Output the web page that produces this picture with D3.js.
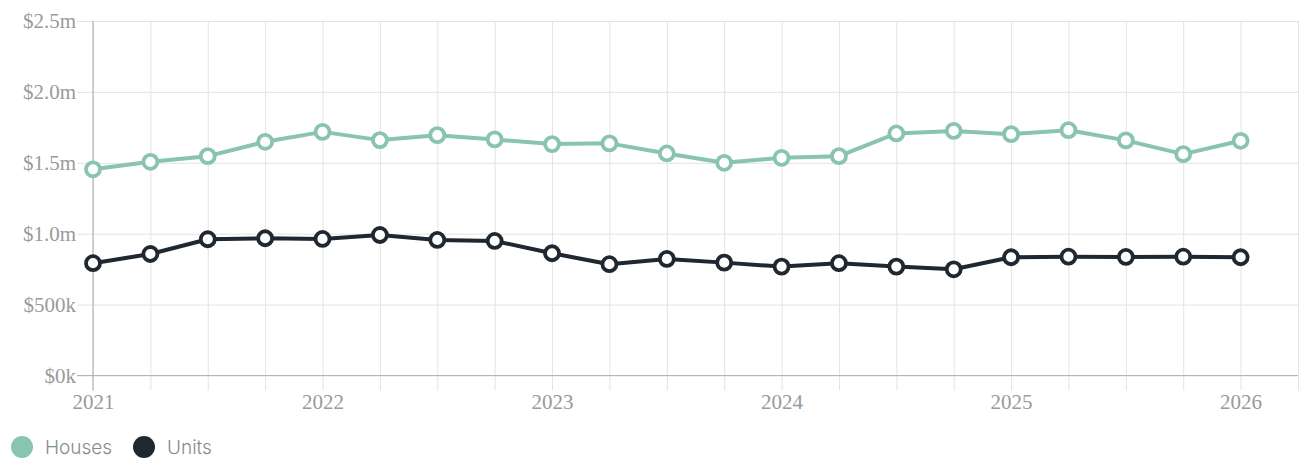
<!DOCTYPE html>
<html>
<head>
<meta charset="utf-8">
<script src="https://cdn.jsdelivr.net/npm/d3@7"></script>
<style>
  html, body { margin: 0; padding: 0; background: #fff; }
  svg { display: block; }
</style>
</head>
<body>
<svg id="chart" width="1307" height="461"></svg>
<script>
// Quarterly median prices, Q1 2021 through Q1 2026
const periods = [
  2021, 2021.25, 2021.5, 2021.75,
  2022, 2022.25, 2022.5, 2022.75,
  2023, 2023.25, 2023.5, 2023.75,
  2024, 2024.25, 2024.5, 2024.75,
  2025, 2025.25, 2025.5, 2025.75,
  2026
];
const housesValues = [
  1454000, 1507000, 1547000, 1648000,
  1718000, 1660000, 1695000, 1665000,
  1632000, 1637000, 1566000, 1500000,
  1535000, 1547000, 1707000, 1725000,
  1702000, 1730000, 1658000, 1561000,
  1655000
];
const unitsValues = [
  792000, 857000, 961000, 968000,
  963000, 991000, 956000, 949000,
  862000, 785000, 822000, 796000,
  768000, 792000, 768000, 749000,
  834000, 838000, 836000, 838000,
  834000
];
const yTickValues = [0, 500000, 1000000, 1500000, 2000000, 2500000];
const yTickLabels = ["$0k", "$500k", "$1.0m", "$1.5m", "$2.0m", "$2.5m"];
const yearLabels = [2021, 2022, 2023, 2024, 2025, 2026];
const seriesNames = ["Houses", "Units"];
const seriesColors = ["#88c4ae", "#1f2730"];

const svg = d3.select("#chart");
const margin = { left: 93, right: 9, top: 21, bottom: 86 };
const W = 1307, H = 461;

const x = d3.scaleLinear()
  .domain([2021, 2026.25])
  .range([margin.left, W - margin.right]);
const y = d3.scaleLinear()
  .domain([0, 2500000])
  .range([H - margin.bottom + 0.5, margin.top]);

const quarterTicks = d3.range(0, 22).map(i => 2021 + i / 4);

// Horizontal grid with short ticks to the left of the axis
const yAxis = d3.axisLeft(y)
  .tickValues(yTickValues)
  .tickSize(-(x.range()[1] - x.range()[0]) - 16)
  .tickFormat((d, i) => yTickLabels[i]);
const gy = svg.append("g")
  .attr("transform", `translate(${margin.left - 16},0)`)
  .call(yAxis);
gy.select(".domain").remove();
gy.selectAll(".tick line")
  .attr("x1", 0)
  .attr("x2", x.range()[1] - x.range()[0] + 16)
  .attr("stroke", "#e3e3e3")
  .attr("stroke-width", 1);
gy.selectAll(".tick text")
  .attr("x", -1)
  .attr("fill", "#9a9a9a")
  .style("font-family", "'Liberation Serif', 'Times New Roman', serif")
  .style("font-size", "21px");

// Vertical quarterly grid, extending below the baseline
const xAxis = d3.axisBottom(x)
  .tickValues(quarterTicks)
  .tickSize(15)
  .tickFormat(d => (Number.isInteger(d) && yearLabels.includes(d)) ? String(d) : "");
const gx = svg.append("g")
  .attr("transform", `translate(0,${y(0)})`)
  .call(xAxis);
gx.select(".domain").remove();
gx.selectAll(".tick line")
  .attr("y1", y(2500000) - y(0))
  .attr("y2", 15)
  .attr("stroke", "#e3e3e3")
  .attr("stroke-width", 1);
gx.selectAll(".tick text")
  .attr("y", 19)
  .attr("fill", "#9a9a9a")
  .style("font-family", "'Liberation Serif', 'Times New Roman', serif")
  .style("font-size", "21px");

// Axis lines
svg.append("line")
  .attr("x1", x(2021)).attr("x2", x(2021))
  .attr("y1", y(2500000)).attr("y2", y(0) + 15)
  .attr("stroke", "#b5b5b5").attr("stroke-width", 1.2);
svg.append("line")
  .attr("x1", margin.left - 16).attr("x2", x(2026.25))
  .attr("y1", y(0)).attr("y2", y(0))
  .attr("stroke", "#b5b5b5").attr("stroke-width", 1.2);

// Series lines and markers
const series = [housesValues, unitsValues];
const line = d3.line()
  .x((d, i) => x(periods[i]))
  .y(d => y(d));

series.forEach((vals, s) => {
  svg.append("path")
    .datum(vals)
    .attr("d", line)
    .attr("fill", "none")
    .attr("stroke", seriesColors[s])
    .attr("stroke-width", 4)
    .attr("stroke-linejoin", "round");
  svg.append("g")
    .selectAll("circle")
    .data(vals)
    .join("circle")
    .attr("cx", (d, i) => x(periods[i]))
    .attr("cy", d => y(d))
    .attr("r", 7)
    .attr("fill", "#fff")
    .attr("stroke", seriesColors[s])
    .attr("stroke-width", 3.8);
});

// Legend
const legend = svg.append("g").attr("transform", "translate(0,447)");
const legendX = [22, 144];
seriesNames.forEach((name, i) => {
  legend.append("circle")
    .attr("cx", legendX[i]).attr("cy", 0).attr("r", 11)
    .attr("fill", seriesColors[i]);
  legend.append("text")
    .attr("x", legendX[i] + 23).attr("y", 0)
    .attr("dy", "0.35em")
    .attr("fill", "#868a8f")
    .style("font-family", "Inter, 'Noto Sans', sans-serif")
    .style("font-weight", "300")
    .style("font-size", "19px")
    .text(name);
});
</script>
</body>
</html>
